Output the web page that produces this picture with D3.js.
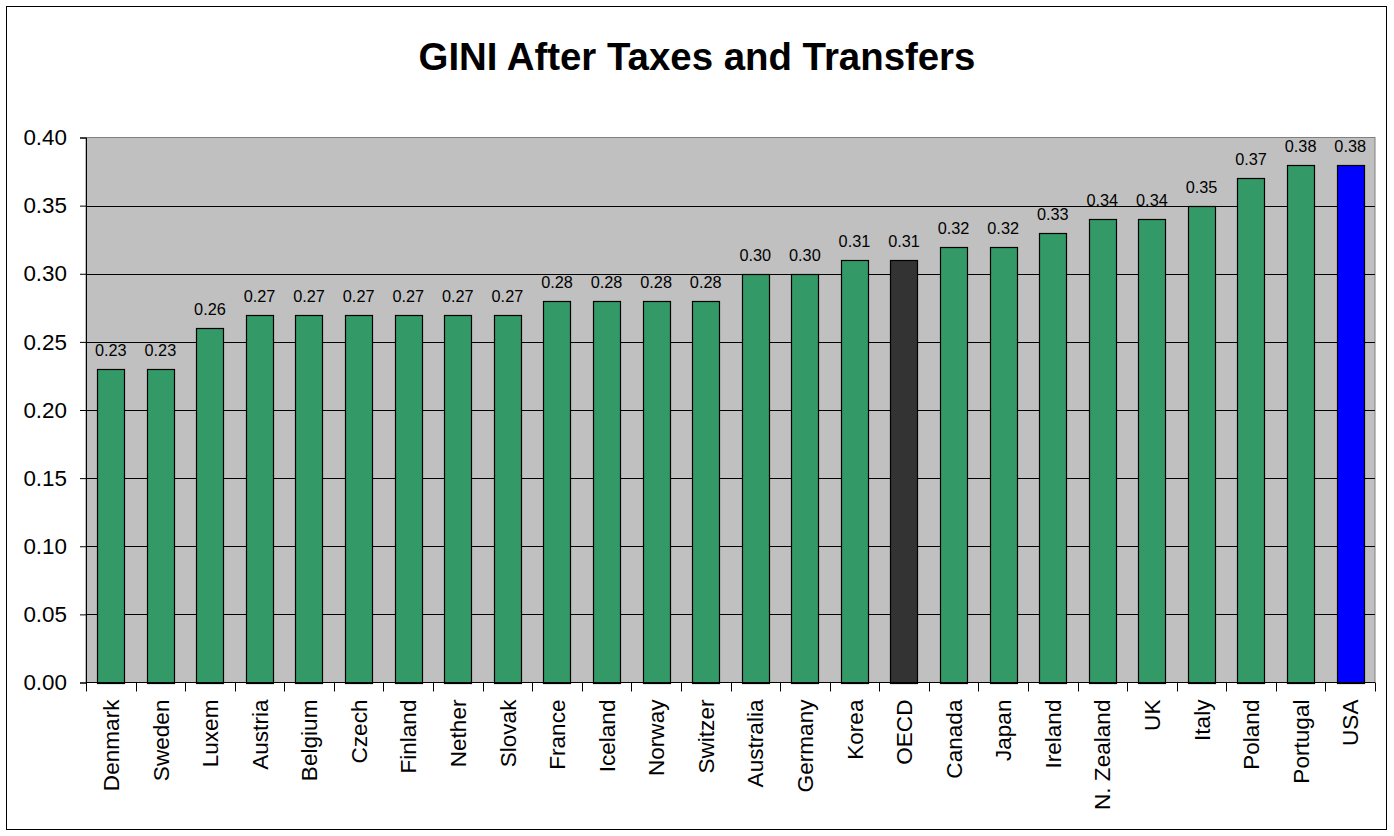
<!DOCTYPE html>
<html>
<head>
<meta charset="utf-8">
<script src="https://cdn.jsdelivr.net/npm/d3@7"></script>
<style>
  body { margin: 0; background: #fff; }
  svg { display: block; font-family: "Liberation Sans", Arial, sans-serif; }
</style>
</head>
<body>
<div id="chart"></div>
<script>

var countries = ['Denmark', 'Sweden', 'Luxem', 'Austria', 'Belgium', 'Czech', 'Finland', 'Nether', 'Slovak',
  'France', 'Iceland', 'Norway', 'Switzer', 'Australia', 'Germany', 'Korea', 'OECD', 'Canada', 'Japan',
  'Ireland', 'N. Zealand', 'UK', 'Italy', 'Poland', 'Portugal', 'USA'];

var gini = [0.23, 0.23, 0.26, 0.27, 0.27, 0.27, 0.27, 0.27, 0.27,
  0.28, 0.28, 0.28, 0.28, 0.30, 0.30, 0.31, 0.31, 0.32, 0.32,
  0.33, 0.34, 0.34, 0.35, 0.37, 0.38, 0.38];

var yTicks = [0, 0.05, 0.10, 0.15, 0.20, 0.25, 0.30, 0.35, 0.40];

var chartTitle = 'GINI After Taxes and Transfers';

var width = 1394;
var height = 836;

// plot area (matches the excel-style frame)
var plot = {left: 86, right: 1375, top: 137.5, bottom: 682.5};

var svg = d3.select('#chart')
  .append('svg')
    .attr('width', width)
    .attr('height', height);

// outer chart border
svg.append('rect')
    .attr('x', 6.5)
    .attr('y', 6.5)
    .attr('width', 1380)
    .attr('height', 823)
    .attr('fill', '#fff')
    .attr('stroke', '#000');

svg.append('text')
    .attr('x', 697)
    .attr('y', 70)
    .attr('text-anchor', 'middle')
    .style('font-size', '38.4px')
    .style('font-weight', 'bold')
    .text(chartTitle);

var data = countries.map(function(c, i){
  return {name: c, value: gini[i]};
});

var x = d3.scaleBand()
    .domain(countries)
    .range([plot.left, plot.right])
    .paddingInner(0.45)
    .paddingOuter(0.225);

var y = d3.scaleLinear()
    .domain([0, 0.4])
    .range([plot.bottom, plot.top]);

var barColor = function(d){
  if (d.name === 'OECD') return '#333333';
  if (d.name === 'USA') return '#0000ff';
  return '#339966';
};

// grey plot background
svg.append('rect')
    .attr('x', plot.left)
    .attr('y', plot.top)
    .attr('width', plot.right - plot.left)
    .attr('height', plot.bottom - plot.top)
    .attr('fill', '#c0c0c0')
    .attr('stroke', '#808080');

// gridlines
svg.append('g')
  .selectAll('line')
    .data(yTicks.slice(1, -1))
  .enter().append('line')
    .attr('x1', plot.left)
    .attr('x2', plot.right)
    .attr('y1', function(d){ return Math.round(y(d)) + 0.5; })
    .attr('y2', function(d){ return Math.round(y(d)) + 0.5; })
    .attr('stroke', '#000');

// bars
svg.append('g')
  .selectAll('rect')
    .data(data)
  .enter().append('rect')
    .attr('x', function(d){ return Math.round(x(d.name)) + 0.5; })
    .attr('y', function(d){ return Math.round(y(d.value)) + 0.5; })
    .attr('width', function(d){ return Math.round(x.bandwidth()); })
    .attr('height', function(d){ return Math.round(y(0)) - Math.round(y(d.value)); })
    .attr('fill', barColor)
    .attr('stroke', '#000')
    .attr('stroke-width', 1.2);

// value labels
svg.append('g')
  .selectAll('text')
    .data(data)
  .enter().append('text')
    .attr('x', function(d){ return x(d.name) + x.bandwidth()/2; })
    .attr('y', function(d){ return y(d.value) - 13; })
    .attr('text-anchor', 'middle')
    .style('font-size', '16.3px')
    .text(function(d){ return d3.format('.2f')(d.value); });

// y axis
var yAxis = svg.append('g')
    .attr('transform', 'translate(' + plot.left + ',0)')
    .call(d3.axisLeft(y)
      .tickValues(yTicks)
      .tickFormat(d3.format('.2f'))
      .tickSize(6)
      .tickPadding(13));
yAxis.select('.domain').attr('stroke', '#000');
yAxis.selectAll('.tick line').attr('stroke', '#000');
yAxis.selectAll('text')
    .style('font-size', '22.4px')
    .attr('fill', '#000')
    .style('font-family', '"Liberation Sans", Arial, sans-serif');

// x axis: ticks on the category boundaries
var xAxis = svg.append('g')
    .attr('transform', 'translate(0,' + plot.bottom + ')');
xAxis.append('line')
    .attr('x1', plot.left)
    .attr('x2', plot.right)
    .attr('stroke', '#000');
xAxis.selectAll('.bound')
    .data(d3.range(countries.length + 1))
  .enter().append('line')
    .attr('class', 'bound')
    .attr('x1', function(i){ return Math.round(plot.left + i*x.step()) + 0.5; })
    .attr('x2', function(i){ return Math.round(plot.left + i*x.step()) + 0.5; })
    .attr('y2', 9)
    .attr('stroke', '#000');
xAxis.selectAll('text')
    .data(countries)
  .enter().append('text')
    .attr('transform', function(d){
      return 'translate(' + (x(d) + x.bandwidth()/2) + ',17) rotate(-90)';
    })
    .attr('dy', '0.36em')
    .attr('text-anchor', 'end')
    .style('font-size', '22.6px')
    .text(function(d){ return d; });

</script>
</body>
</html>
